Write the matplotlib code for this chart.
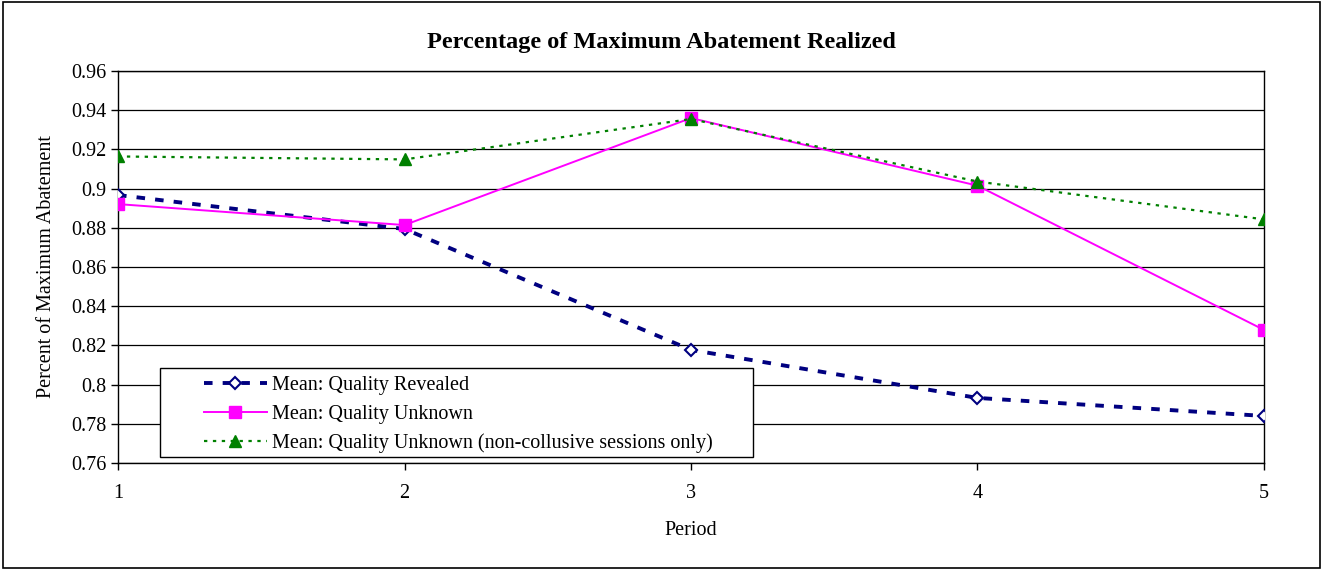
import matplotlib
matplotlib.use("Agg")
import matplotlib.pyplot as plt
from matplotlib.patches import Rectangle
from matplotlib.legend_handler import HandlerLine2D

periods = [1, 2, 3, 4, 5]
revealed = [0.8967, 0.8794, 0.8177, 0.7932, 0.7840]
unknown = [0.8921, 0.8814, 0.9360, 0.9015, 0.8279]
noncollusive = [0.9164, 0.9149, 0.9355, 0.9036, 0.8843]

yticks = [0.76, 0.78, 0.8, 0.82, 0.84, 0.86, 0.88, 0.9, 0.92, 0.94, 0.96]
ytick_labels = ["0.76", "0.78", "0.8", "0.82", "0.84", "0.86", "0.88", "0.9", "0.92", "0.94", "0.96"]

plt.rcParams["font.family"] = ["Liberation Serif", "DejaVu Serif"]
FS = 14.5

fig = plt.figure(figsize=(13.23, 5.69), dpi=100)
ax = fig.add_axes([0.0892, 0.1863, 0.8662, 0.6889])

l1, = ax.plot(periods, revealed, color="#000080", ls=(0, (2.2, 2.6)), lw=2.8,
              marker="D", ms=6, mfc="white", mec="#000080", mew=1.5,
              label="Mean: Quality Revealed", zorder=3)
l2, = ax.plot(periods, unknown, color="#FF00FF", lw=1.4,
              marker="s", ms=8, mfc="#FF00FF", mec="#FF00FF",
              label="Mean: Quality Unknown", zorder=3)
l3, = ax.plot(periods, noncollusive, color="#008000", ls=(0, (1.5, 2.5)), lw=1.6,
              marker="^", ms=9, mfc="#008000", mec="#008000",
              label="Mean: Quality Unknown (non-collusive sessions only)", zorder=4)

ax.set_xlim(1, 5)
ax.set_ylim(0.76, 0.96)
ax.set_xticks(periods)
ax.set_yticks(yticks)
ax.set_yticklabels(ytick_labels)
ax.tick_params(axis="both", labelsize=FS, direction="out", length=5, width=1)
ax.tick_params(axis="x", pad=10)
ax.yaxis.grid(True, color="black", lw=0.9)
ax.set_axisbelow(True)
for s in ax.spines.values():
    s.set_linewidth(1.0)
    s.set_color("black")

fig.text(0.5, 0.926, "Percentage of Maximum Abatement Realized", fontsize=17.5,
         fontweight="bold", ha="center", va="center")
ax.set_xlabel("Period", fontsize=FS, labelpad=13)
ax.set_ylabel("Percent of Maximum Abatement", fontsize=FS, labelpad=11)

# legend box drawn separately so it can be wider than its text
ax.add_patch(Rectangle((0.0366, 0.0153), 0.5175, 0.227, transform=ax.transAxes,
                       facecolor="white", edgecolor="black", lw=1.0, zorder=5))
hmap = {h: HandlerLine2D(xpad=1.85) for h in (l1, l2, l3)}
leg = ax.legend(handles=[l1, l2, l3], handler_map=hmap,
                loc="lower left", bbox_to_anchor=(0.037, 0.01), fontsize=FS,
                frameon=False, handlelength=4.97, borderpad=0.3, labelspacing=0.48,
                handletextpad=0.25, borderaxespad=0)
leg.set_zorder(6)

# outer chart frame
fig.patches.append(Rectangle((0.002, 0.002), 0.996, 0.995, transform=fig.transFigure,
                             fill=False, edgecolor="black", lw=1.2))

fig.savefig("out.png", dpi=100, facecolor="white")
